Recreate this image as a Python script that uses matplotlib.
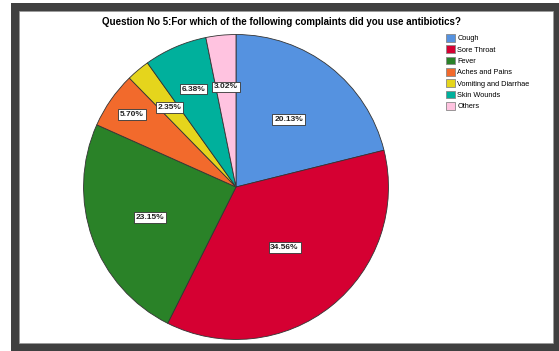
import numpy as np
import matplotlib
matplotlib.use("Agg")
import matplotlib.pyplot as plt
from matplotlib.patches import Rectangle, Patch

# survey answers, question 5
complaints = ["Cough", "Sore Throat", "Fever", "Aches and Pains",
              "Vomiting and Diarrhae", "Skin Wounds", "Others"]
percents = [20.13, 34.56, 23.15, 5.70, 2.35, 6.38, 3.02]
colors = ["#5592e0", "#d50032", "#2a8228", "#f26a2c", "#e5d51c", "#00b09c", "#ffc3e0"]
label_radius = [0.56, 0.51, 0.60, 0.83, 0.68, 0.70, 0.66]

W, H = 559, 351
fig = plt.figure(figsize=(W / 100, H / 100), dpi=100)
fig.patch.set_facecolor("white")

# dark frame around the white panel
fig.patches.append(Rectangle((11 / W, 0), 1 - 11 / W, (H - 3) / H,
                             transform=fig.transFigure, facecolor="#404040",
                             edgecolor="none", zorder=-2))
fig.patches.append(Rectangle((19 / W, 8 / H), (553 - 19) / W, (343 - 11) / H,
                             transform=fig.transFigure, facecolor="white",
                             edgecolor="#9a9a9a", linewidth=0.5, zorder=-1))

cx, cy, r = 236, 187, 154
ax = fig.add_axes([(cx - r) / W, (H - cy - r) / H, 2 * r / W, 2 * r / H])
ax.set_zorder(1)
wedges, _ = ax.pie(percents, colors=colors, startangle=90, counterclock=False,
                   normalize=True,
                   wedgeprops=dict(edgecolor="#333333", linewidth=0.6))
ax.set_xlim(-1.01, 1.01)
ax.set_ylim(-1.01, 1.01)
ax.axis("off")

for w, pct, lr in zip(wedges, percents, label_radius):
    mid = np.deg2rad((w.theta1 + w.theta2) / 2)
    ax.text(lr * np.cos(mid), lr * np.sin(mid), f"{pct:.2f}%",
            ha="center", va="center", fontsize=6.0, fontweight="bold",
            family="Liberation Sans", color="#222222",
            bbox=dict(boxstyle="square,pad=0.22", facecolor="white",
                      edgecolor="#333333", linewidth=0.6))

fig.text(281 / W, 1 - 22 / H,
         "Question No 5:For which of the following complaints did you use antibiotics?",
         ha="center", va="center", fontsize=7.0, fontweight="bold",
         family="Liberation Sans")

handles = [Patch(facecolor=c, edgecolor="#888888", linewidth=0.6) for c in colors]
fig.legend(handles, complaints, loc="upper left",
           bbox_to_anchor=(446 / W, 1 - 34 / H), frameon=False,
           prop=dict(family="Liberation Sans", size=5.3),
           handlelength=1.25, handleheight=1.25, handletextpad=0.3,
           labelspacing=0.4, borderpad=0, borderaxespad=0)

fig.savefig("out.png", dpi=100)
